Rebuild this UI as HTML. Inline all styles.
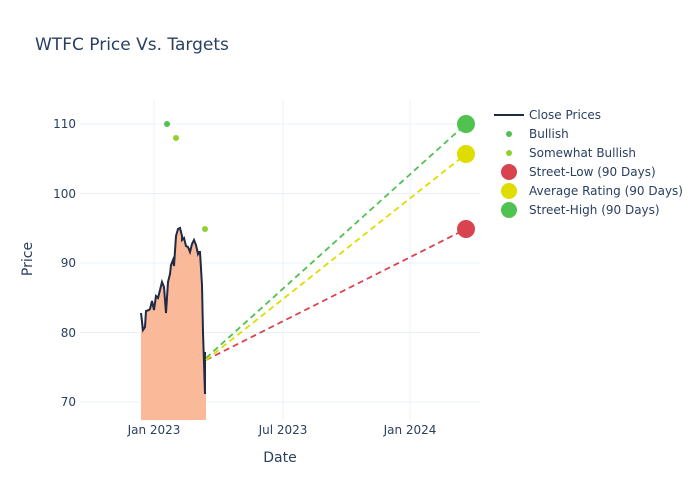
<!DOCTYPE html>
<html><head><meta charset="utf-8"><style>body{margin:0;background:#fff}svg{display:block;font-family:"DejaVu Sans",sans-serif}</style></head><body>
<svg width="700" height="500" xmlns="http://www.w3.org/2000/svg">
<rect width="700" height="500" fill="#fff"/>
<text x="35" y="50" font-size="17" fill="#2a3f5f">WTFC Price Vs. Targets</text>
<g stroke="#ebf0f8" stroke-width="1">
<line x1="154" y1="100" x2="154" y2="420"/><line x1="283" y1="100" x2="283" y2="420"/><line x1="410" y1="100" x2="410" y2="420"/>
<line x1="80" y1="124" x2="480" y2="124"/><line x1="80" y1="193.5" x2="480" y2="193.5"/><line x1="80" y1="263" x2="480" y2="263"/><line x1="80" y1="332.5" x2="480" y2="332.5"/><line x1="80" y1="402" x2="480" y2="402"/>
</g>
<g font-size="12" fill="#2a3f5f" text-anchor="end">
<text x="76" y="128">110</text><text x="76" y="198">100</text><text x="76" y="267">90</text><text x="76" y="337">80</text><text x="76" y="406">70</text>
</g>
<g font-size="12" fill="#2a3f5f" text-anchor="middle">
<text x="154" y="434">Jan 2023</text><text x="283" y="434">Jul 2023</text><text x="410" y="434">Jan 2024</text>
</g>
<text x="280" y="462" font-size="14" fill="#2a3f5f" text-anchor="middle">Date</text>
<text x="32" y="259" font-size="14" fill="#2a3f5f" text-anchor="middle" transform="rotate(-90 32 259)">Price</text>
<path d="M141,313 L143,330 145,327 146,311 149,310 150,309 152,301 154,310 156,296 158,298 160,290 162,282 164,287 166,313 168,282 170,274 171,265 173,260 174,266 176,236 178,229 180,228 182,236 182,240 184,238 186,246 188,247 190,252 192,244 194,240 196,245 198,254 199,252 200,252 202,285 203,332 205,394 205,352 206,360 L206,420 141,420 Z" fill="#fab28f" opacity="0.9"/>
<path d="M141,313 L143,330 145,327 146,311 149,310 150,309 152,301 154,310 156,296 158,298 160,290 162,282 164,287 166,313 168,282 170,274 171,265 173,260 174,266 176,236 178,229 180,228 182,236 182,240 184,238 186,246 188,247 190,252 192,244 194,240 196,245 198,254 199,252 200,252 202,285 203,332 205,394 205,352" fill="none" stroke="#1f2a44" stroke-width="2"/>
<g stroke-width="1.8" stroke-dasharray="6,4" fill="none">
<line x1="206" y1="360" x2="466" y2="229" stroke="#d9434f"/>
<line x1="206" y1="360" x2="466" y2="154" stroke="#dfdc00"/>
<line x1="206" y1="358" x2="466" y2="124" stroke="#4fc24f"/>
</g>
<circle cx="167" cy="124" r="3" fill="#4fc24f"/>
<circle cx="176" cy="138" r="3" fill="#8fd12e"/>
<circle cx="205" cy="229" r="3" fill="#8fd12e"/>
<circle cx="466" cy="229" r="9" fill="#d9434f"/>
<circle cx="466" cy="154" r="9" fill="#dfdc00"/>
<circle cx="466" cy="124" r="9" fill="#4fc24f"/>
<g font-size="12" fill="#2a3f5f">
<line x1="494" y1="115" x2="524" y2="115" stroke="#1f2a44" stroke-width="2"/><text x="529" y="119">Close Prices</text>
<circle cx="509" cy="134" r="3" fill="#4fc24f"/><text x="529" y="138">Bullish</text>
<circle cx="509" cy="153" r="3" fill="#8fd12e"/><text x="529" y="157">Somewhat Bullish</text>
<circle cx="509" cy="172" r="8" fill="#d9434f"/><text x="529" y="176">Street-Low (90 Days)</text>
<circle cx="509" cy="191" r="8" fill="#dfdc00"/><text x="529" y="195">Average Rating (90 Days)</text>
<circle cx="509" cy="210" r="8" fill="#4fc24f"/><text x="529" y="214">Street-High (90 Days)</text>
</g>
</svg>
</body></html>
